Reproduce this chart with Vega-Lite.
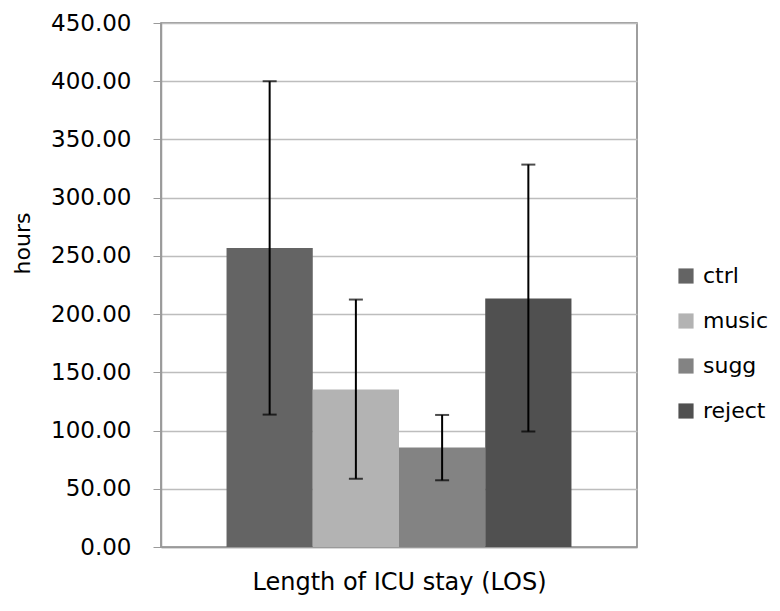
{
  "$schema": "https://vega.github.io/schema/vega-lite/v6.json",
  "width": 476,
  "height": 524,
  "autosize": {"type": "none"},
  "padding": {"left": 161, "top": 23, "right": 143, "bottom": 64},
  "background": "white",
  "config": {
    "font": "DejaVu Sans",
    "view": {"stroke": "#7f7f7f", "strokeWidth": 1.5},
    "axis": {"labelFont": "DejaVu Sans", "titleFont": "DejaVu Sans", "labelColor": "#000", "titleColor": "#000", "titleFontWeight": "normal"},
    "legend": {"labelFont": "DejaVu Sans"}
  },
  "data": {
    "values": [
      {"cat": "Length of ICU stay (LOS)", "group": "ctrl", "mean": 256.7, "lo": 113.7, "hi": 400.0},
      {"cat": "Length of ICU stay (LOS)", "group": "music", "mean": 135.2, "lo": 58.6, "hi": 212.5},
      {"cat": "Length of ICU stay (LOS)", "group": "sugg", "mean": 85.4, "lo": 57.3, "hi": 113.4},
      {"cat": "Length of ICU stay (LOS)", "group": "reject", "mean": 213.4, "lo": 99.2, "hi": 328.4}
    ]
  },
  "encoding": {
    "x": {
      "field": "cat", "type": "nominal",
      "scale": {"paddingInner": 0, "paddingOuter": 0.19},
      "axis": {"labels": false, "ticks": false, "domainColor": "#9a9a9a", "domainWidth": 1.5, "title": "Length of ICU stay (LOS)", "titleFontSize": 24, "titlePadding": 23}
    },
    "xOffset": {"field": "group", "type": "nominal", "sort": ["ctrl", "music", "sugg", "reject"], "scale": {"paddingInner": 0, "paddingOuter": 0}}
  },
  "layer": [
    {
      "mark": {"type": "bar"},
      "encoding": {
        "y": {
          "field": "mean", "type": "quantitative",
          "scale": {"domain": [0, 450], "nice": false},
          "axis": {
            "values": [0, 50, 100, 150, 200, 250, 300, 350, 400, 450],
            "format": ".2f", "labelFontSize": 23, "labelPadding": 22,
            "tickColor": "#9a9a9a", "tickSize": 8, "domainColor": "#9a9a9a", "domainWidth": 1.5,
            "gridColor": "#bdbdbd", "gridWidth": 1.3,
            "title": "hours", "titleFontSize": 22, "titleX": -139, "titleY": 220, "titleBaseline": "middle"
          }
        },
        "color": {
          "field": "group", "type": "nominal",
          "sort": ["ctrl", "music", "sugg", "reject"],
          "scale": {"domain": ["ctrl", "music", "sugg", "reject"], "range": ["#646464", "#b3b3b3", "#838383", "#505050"]},
          "legend": {
            "title": null, "orient": "none", "legendX": 514, "legendY": 242,
            "symbolType": "square", "symbolSize": 230, "symbolStrokeWidth": 0,
            "labelFontSize": 22, "labelColor": "#000", "labelOffset": 6, "rowPadding": 23
          }
        }
      }
    },
    {
      "mark": {"type": "rule", "color": "#000", "strokeWidth": 2},
      "encoding": {
        "y": {"field": "lo", "type": "quantitative"},
        "y2": {"field": "hi"}
      }
    },
    {
      "mark": {"type": "tick", "color": "#000", "thickness": 2, "size": 14},
      "encoding": {"y": {"field": "lo", "type": "quantitative"}}
    },
    {
      "mark": {"type": "tick", "color": "#000", "thickness": 2, "size": 14},
      "encoding": {"y": {"field": "hi", "type": "quantitative"}}
    }
  ]
}
